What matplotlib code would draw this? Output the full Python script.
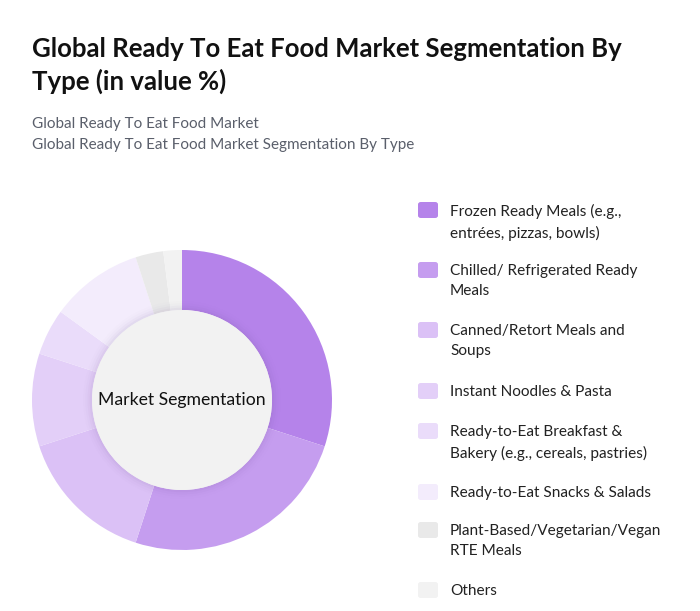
import matplotlib
matplotlib.use("Agg")
import matplotlib.pyplot as plt
from matplotlib.patches import FancyBboxPatch, Circle

categories = [
    "Frozen Ready Meals (e.g.,\nentrées, pizzas, bowls)",
    "Chilled/ Refrigerated Ready\nMeals",
    "Canned/Retort Meals and\nSoups",
    "Instant Noodles & Pasta",
    "Ready-to-Eat Breakfast &\nBakery (e.g., cereals, pastries)",
    "Ready-to-Eat Snacks & Salads",
    "Plant-Based/Vegetarian/Vegan\nRTE Meals",
    "Others",
]
values = [30, 25, 15, 10, 5, 10, 3, 2]
colors = ["#b583ea", "#c59def", "#dbc1f6", "#e3cff8", "#eadcfa", "#f3ecfc", "#e9e9e9", "#f2f2f2"]

W, H = 700, 611
fig = plt.figure(figsize=(W / 100, H / 100), dpi=100)
fig.patch.set_facecolor("white")
plt.rcParams['font.family'] = ['Lato', 'DejaVu Sans']

def fx(px): return px / W
def fy(py): return 1 - py / H

fig.text(fx(32), fy(49), "Global Ready To Eat Food Market Segmentation By", fontsize=18.5,
         fontweight="bold", color="#111111", va="center", ha="left")
fig.text(fx(32), fy(81), "Type (in value %)", fontsize=18.5,
         fontweight="bold", color="#111111", va="center", ha="left")
fig.text(fx(32), fy(124), "Global Ready To Eat Food Market", fontsize=11,
         color="#5a5f6b", va="center", ha="left")
fig.text(fx(32), fy(145), "Global Ready To Eat Food Market Segmentation By Type", fontsize=11,
         color="#5a5f6b", va="center", ha="left")

# donut
cx, cy, R = 182, 400, 150
ax = fig.add_axes([fx(cx - R), fy(cy + R), 2 * R / W, 2 * R / H])
ax.pie(values, colors=colors, startangle=90, counterclock=False, radius=1.0,
       wedgeprops=dict(width=0.4, edgecolor="none", linewidth=0))
for i, a in enumerate([0.05, 0.035, 0.02, 0.01]):
    ax.add_patch(Circle((0, 0), 0.6 + 0.015 * (i + 1), color="#7a5a9a", alpha=a, lw=0, zorder=3))
ax.add_patch(Circle((0, 0), 0.6, color="#f2f2f2", lw=0, zorder=4))
ax.text(0, 0, "Market Segmentation", ha="center", va="center", fontsize=12.7, color="#111111", zorder=5)
ax.set_xlim(-1, 1)
ax.set_ylim(-1, 1)
ax.set_aspect("equal")
ax.axis("off")

# legend
tops = [210, 270, 330, 391, 431, 492, 530, 590]
for lab, col, ty in zip(categories, colors, tops):
    sq = FancyBboxPatch((fx(418), fy(ty + 8)), 20 / W, 16 / H,
                        boxstyle="round,pad=0,rounding_size=0.004",
                        transform=fig.transFigure, facecolor=col, edgecolor="none")
    fig.patches.append(sq)
    fig.text(fx(450), fy(ty - 6), lab, fontsize=11.1, color="#222222", va="top", ha="left",
             linespacing=1.58)

fig.savefig("out.png", dpi=100, facecolor="white")
